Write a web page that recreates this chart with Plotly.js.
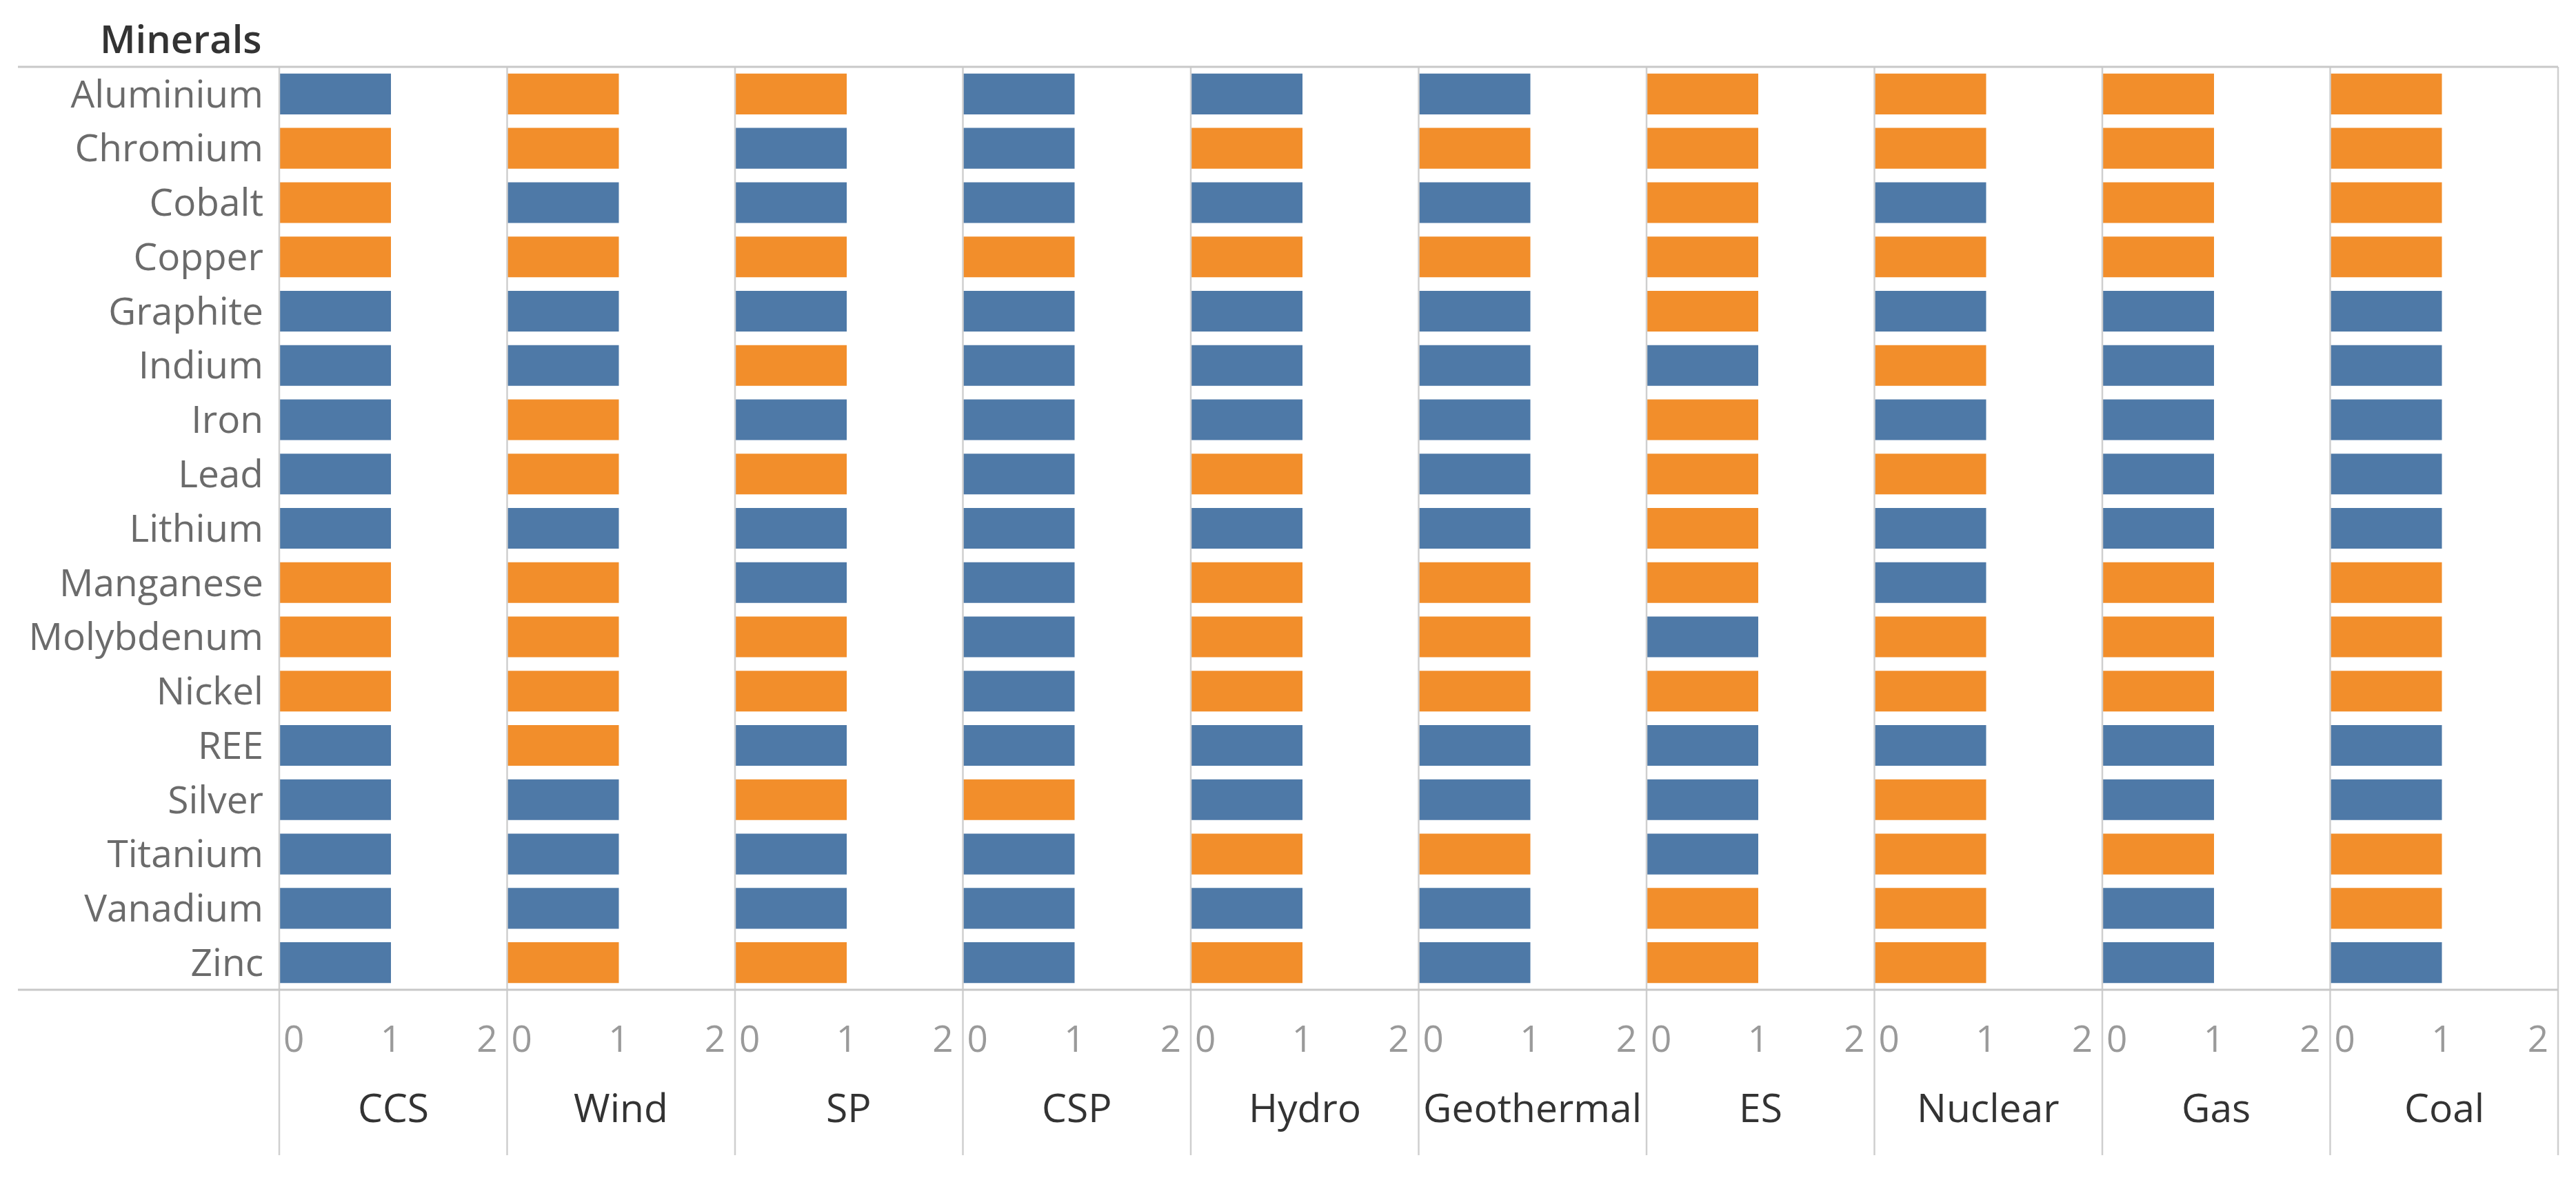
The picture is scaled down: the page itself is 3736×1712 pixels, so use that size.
<!DOCTYPE html>
<html>
<head>
<meta charset="utf-8">
<script src="https://cdn.plot.ly/plotly-3.0.1.min.js"></script>
<style>
  html, body { margin: 0; padding: 0; background: #ffffff; }
  #chart { width: 3736px; height: 1712px; }
</style>
</head>
<body>
<div id="chart"></div>
<script>
// ---------------- DATA ----------------
const minerals = ["Aluminium", "Chromium", "Cobalt", "Copper", "Graphite", "Indium", "Iron", "Lead",
  "Lithium", "Manganese", "Molybdenum", "Nickel", "REE", "Silver", "Titanium", "Vanadium", "Zinc"];

const technologies = ["CCS", "Wind", "SP", "CSP", "Hydro", "Geothermal", "ES", "Nuclear", "Gas", "Coal"];

// bar length of every mineral (each bar reaches 1)
const barValues = [1, 1, 1, 1, 1, 1, 1, 1, 1, 1, 1, 1, 1, 1, 1, 1, 1];

// colour category per mineral: 1 = orange, 0 = blue (order as in `minerals`)
const ccs        = [0, 1, 1, 1, 0, 0, 0, 0, 0, 1, 1, 1, 0, 0, 0, 0, 0];
const wind       = [1, 1, 0, 1, 0, 0, 1, 1, 0, 1, 1, 1, 1, 0, 0, 0, 1];
const sp         = [1, 0, 0, 1, 0, 1, 0, 1, 0, 0, 1, 1, 0, 1, 0, 0, 1];
const csp        = [0, 0, 0, 1, 0, 0, 0, 0, 0, 0, 0, 0, 0, 1, 0, 0, 0];
const hydro      = [0, 1, 0, 1, 0, 0, 0, 1, 0, 1, 1, 1, 0, 0, 1, 0, 1];
const geothermal = [0, 1, 0, 1, 0, 0, 0, 0, 0, 1, 1, 1, 0, 0, 1, 0, 0];
const es         = [1, 1, 1, 1, 1, 0, 1, 1, 1, 1, 0, 1, 0, 0, 0, 1, 1];
const nuclear    = [1, 1, 0, 1, 0, 1, 0, 1, 0, 0, 1, 1, 0, 1, 1, 1, 1];
const gas        = [1, 1, 1, 1, 0, 0, 0, 0, 0, 1, 1, 1, 0, 0, 1, 0, 0];
const coal       = [1, 1, 1, 1, 0, 0, 0, 0, 0, 1, 1, 1, 0, 0, 1, 1, 0];

const xTickText = ["0", "1", "2"];

// ---------------- STYLE ----------------
const series = [ccs, wind, sp, csp, hydro, geothermal, es, nuclear, gas, coal];
const BLUE = "#4e79a7", ORANGE = "#f28e2b";
const FONT = "Open Sans, Noto Sans, DejaVu Sans, sans-serif";
const W = 3736, H = 1712;
const M = { l: 405, r: 26, t: 97, b: 276 };
const plotH = H - M.t - M.b;
const plotW = W - M.l - M.r;
const n = technologies.length;
const xRange = [0, 2.04];
const tickPos = [0.13, 1, 1.86];

const traces = series.map((flags, i) => ({
  type: "bar",
  orientation: "h",
  x: barValues,
  y: minerals,
  xaxis: i === 0 ? "x" : "x" + (i + 1),
  yaxis: "y",
  width: 0.75,
  marker: { color: flags.map(f => (f ? ORANGE : BLUE)), line: { width: 0 } },
  hoverinfo: "x+y",
  showlegend: false
}));

const layout = {
  width: W, height: H,
  margin: M,
  paper_bgcolor: "#ffffff",
  plot_bgcolor: "#ffffff",
  font: { family: FONT, color: "#666" },
  bargap: 0.25,
  yaxis: {
    type: "category",
    categoryarray: minerals,
    categoryorder: "array",
    range: [minerals.length - 0.5, -0.5],
    showgrid: false, zeroline: false, showline: false, ticks: "",
    tickfont: { family: FONT, size: 55, color: "#6b6b6b" },
    ticklabelstandoff: 22,
    fixedrange: true
  },
  shapes: [],
  annotations: []
};

for (let i = 0; i < n; i++) {
  const key = i === 0 ? "xaxis" : "xaxis" + (i + 1);
  layout[key] = {
    domain: [i / n, (i + 1) / n],
    range: xRange,
    anchor: "y",
    tickmode: "array",
    tickvals: tickPos,
    ticktext: xTickText,
    showgrid: false, zeroline: false, showline: false, ticks: "",
    tickfont: { family: FONT, size: 53, color: "#9a9a9a" },
    ticklabelstandoff: 36,
    fixedrange: true
  };
  layout.annotations.push({
    xref: "paper", yref: "paper",
    x: (i + 0.5) / n, y: -(1606 - (H - M.b)) / plotH,
    xanchor: "center", yanchor: "middle",
    text: technologies[i], showarrow: false,
    font: { family: FONT, size: 57, color: "#333" }
  });
}

// panel separators (vertical)
const sepBottom = -(1676 - (H - M.b)) / plotH;
for (let i = 0; i <= n; i++) {
  layout.shapes.push({
    type: "line", xref: "paper", yref: "paper",
    x0: i / n, x1: i / n, y0: 1, y1: sepBottom,
    line: { color: "#cfcfcf", width: 2.5 }
  });
}
// top and bottom horizontal rules
const ruleLeft = (26 - M.l) / plotW;
[0, 1].forEach(yy => {
  layout.shapes.push({
    type: "line", xref: "paper", yref: "paper",
    x0: ruleLeft, x1: 1, y0: yy, y1: yy,
    line: { color: "#c8c8c8", width: 3 }
  });
});

// header "Minerals"
layout.annotations.push({
  xref: "paper", yref: "paper",
  x: (382 - M.l) / plotW, y: 1 + (97 - 55) / plotH,
  xanchor: "right", yanchor: "middle",
  text: "Minerals", showarrow: false,
  font: { family: FONT, size: 56, color: "#333", weight: 600 }
});

Plotly.newPlot("chart", traces, layout, { staticPlot: true, displayModeBar: false });
</script>
</body>
</html>
